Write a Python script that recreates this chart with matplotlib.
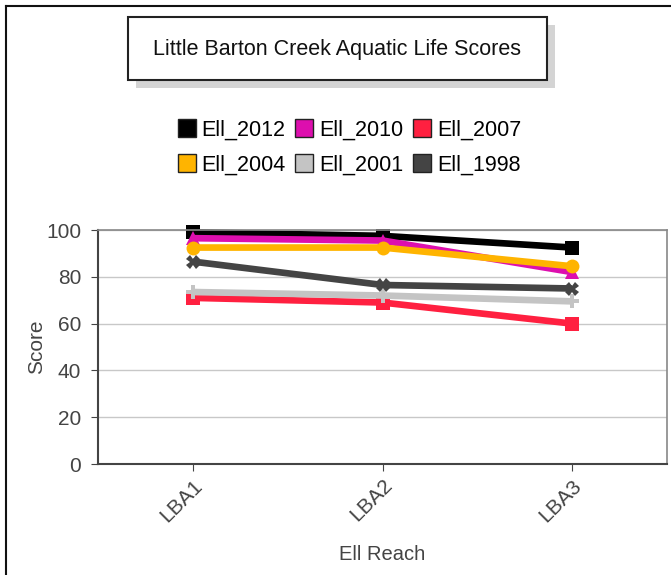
import matplotlib
matplotlib.use("Agg")
import matplotlib.pyplot as plt
from matplotlib.patches import Rectangle
from matplotlib.lines import Line2D

# chart data
reaches = ["LBA1", "LBA2", "LBA3"]
series_names = ["Ell_2012", "Ell_2010", "Ell_2007", "Ell_2004", "Ell_2001", "Ell_1998"]
ell_2012 = [99, 97.5, 92.5]
ell_2010 = [96.5, 95.5, 82]
ell_2007 = [71, 69, 60]
ell_2004 = [92.5, 92.5, 84.5]
ell_2001 = [73.5, 72, 69.5]
ell_1998 = [86.5, 76.5, 75]

all_values = [ell_2012, ell_2010, ell_2007, ell_2004, ell_2001, ell_1998]
colors = ["#000000", "#dd0fae", "#ff2040", "#ffb400", "#c4c4c4", "#444444"]
markers = ["s", "^", "s", "o", "P", "X"]

plt.rcParams["font.family"] = ["Liberation Sans", "DejaVu Sans"]

W, H = 671, 575
fig = plt.figure(figsize=(W / 100, H / 100), dpi=100)


# convert pixel coords (top-left origin) to figure fraction
def fx(px):
    return px / W


def fy(py):
    return 1 - py / H


ax = fig.add_axes([fx(98), fy(464), fx(667) - fx(98), fy(230) - fy(464)])

x = list(range(len(reaches)))
for name, vals, c, m in zip(series_names, all_values, colors, markers):
    ax.plot(x, vals, color=c, linewidth=4.8, marker=m, markersize=10,
            markeredgewidth=0, label=name, solid_capstyle="butt", clip_on=False)

ax.set_xlim(-0.5, 2.5)
ax.set_ylim(0, 100)
ax.set_yticks([0, 20, 40, 60, 80, 100])
ax.set_xticks(x)
ax.set_xticklabels(reaches, rotation=45, ha="right", rotation_mode="anchor",
                   color="#444444", fontsize=15)
ax.tick_params(axis="y", labelsize=15, labelcolor="#444444", length=5, color="#444444", pad=7)
ax.tick_params(axis="x", length=5, color="#444444")
ax.yaxis.grid(True, color="#c8c8c8", linewidth=1)
ax.set_axisbelow(True)
for side in ["left", "bottom"]:
    ax.spines[side].set_color("#444444")
    ax.spines[side].set_linewidth(1.5)
for side in ["top", "right"]:
    ax.spines[side].set_color("#888888")
    ax.spines[side].set_linewidth(1.2)

ax.set_xlabel("Ell Reach", fontsize=14.5, color="#444444", labelpad=14)
ax.set_ylabel("Score", fontsize=15, color="#444444", labelpad=0)

# title box with shadow
shadow = Rectangle((fx(136), fy(88)), fx(547) - fx(128), fy(17) - fy(80),
                   transform=fig.transFigure, facecolor="#d4d4d4", edgecolor="none")
box = Rectangle((fx(128), fy(80)), fx(547) - fx(128), fy(17) - fy(80),
                transform=fig.transFigure, facecolor="white", edgecolor="#222222",
                linewidth=1.5)
fig.patches.extend([shadow, box])
fig.text(fx(337), fy(49), "Little Barton Creek Aquatic Life Scores",
         ha="center", va="center", fontsize=15.5, color="#111111")

# legend with square swatches, reordered so rows read across
order = [0, 3, 1, 4, 2, 5]
handles = [Line2D([], [], linestyle="none", marker="s", markersize=13,
                  markerfacecolor=colors[i], markeredgecolor="#222222", markeredgewidth=1)
           for i in order]
labels = [series_names[i] for i in order]
fig.legend(handles, labels, ncol=3, loc="center", bbox_to_anchor=(fx(349), fy(148)),
           frameon=False, fontsize=15.5, handletextpad=0.25, columnspacing=0.4,
           labelspacing=0.65, handlelength=0.9, borderpad=0)

# outer border at top and left
fig.add_artist(Line2D([fx(6), fx(6)], [fy(6), 0], transform=fig.transFigure,
                      color="#111111", linewidth=1.5))
fig.add_artist(Line2D([fx(6), 1], [fy(6), fy(6)], transform=fig.transFigure,
                      color="#111111", linewidth=1.5))

fig.savefig("out.png", dpi=100)
